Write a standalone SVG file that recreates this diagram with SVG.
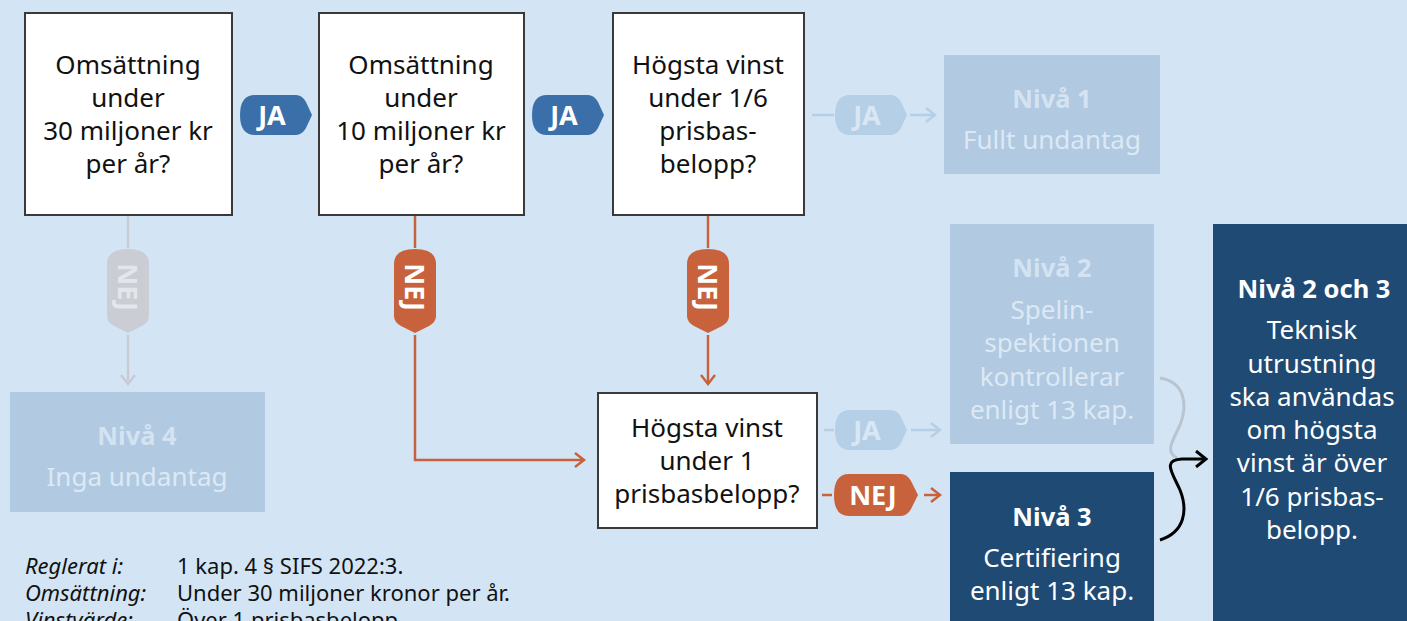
<svg xmlns="http://www.w3.org/2000/svg" width="1407" height="621" viewBox="0 0 1407 621">
<defs>
<style>
text{font-family:"Noto Sans","Open Sans","DejaVu Sans",sans-serif;}
.q{fill:#fff;stroke:#3a3a3a;stroke-width:2;}
.qt{font-size:26px;fill:#111;text-anchor:middle;}
.fade{fill:#b1c9e1;}
.fb{font-size:25.5px;font-weight:bold;fill:#d4e3f2;text-anchor:middle;}
.ft{font-size:26px;fill:#dce9f5;text-anchor:middle;}
.dark{fill:#1f4a73;}
.db{font-size:25.5px;font-weight:bold;fill:#fff;text-anchor:middle;}
.dt{font-size:26px;fill:#fff;text-anchor:middle;}
.tagt{font-size:27px;font-weight:bold;text-anchor:middle;}
.note{font-size:22px;fill:#111;}
</style>
<path id="tagJA" d="M-21,-20 H20 Q26,-20 30,-13 L36,0 L30,13 Q26,20 20,20 H-21 Q-36,20 -36,0 Q-36,-20 -21,-20 Z"/>
<path id="tagNEJ" d="M-27,-21 H25 Q31,-21 35,-14 L42,0 L35,14 Q31,21 25,21 H-27 Q-42,21 -42,0 Q-42,-21 -27,-21 Z"/>
<marker id="aOr" markerWidth="12" markerHeight="16" refX="10" refY="8" orient="auto" markerUnits="userSpaceOnUse">
<path d="M1,1 L10,8 L1,15" fill="none" stroke="#c8623c" stroke-width="2.5"/>
</marker>
<marker id="aFade" markerWidth="12" markerHeight="16" refX="10" refY="8" orient="auto" markerUnits="userSpaceOnUse">
<path d="M1,1 L10,8 L1,15" fill="none" stroke="#b5cfe6" stroke-width="2.5"/>
</marker>
<marker id="aGray" markerWidth="12" markerHeight="16" refX="10" refY="8" orient="auto" markerUnits="userSpaceOnUse">
<path d="M1,1 L10,8 L1,15" fill="none" stroke="#c9cbd3" stroke-width="2.5"/>
</marker>
<marker id="aBlk" markerWidth="14" markerHeight="18" refX="11" refY="9" orient="auto" markerUnits="userSpaceOnUse">
<path d="M1,1 L11,9 L1,17" fill="none" stroke="#000" stroke-width="3"/>
</marker>
</defs>
<rect x="0" y="0" width="1407" height="621" fill="#d3e5f5"/>

<g id="connectors">
<line x1="812" y1="115" x2="834" y2="115" stroke="#b5cfe6" stroke-width="2.5"/>
<line x1="910" y1="115" x2="935" y2="115" stroke="#b5cfe6" stroke-width="2.5" marker-end="url(#aFade)"/>
<line x1="128" y1="216" x2="128" y2="248" stroke="#c9cbd3" stroke-width="2.5"/>
<line x1="128" y1="335" x2="128" y2="384" stroke="#c9cbd3" stroke-width="2.5" marker-end="url(#aGray)"/>
<line x1="415" y1="216" x2="415" y2="248" stroke="#c8623c" stroke-width="2.5"/>
<polyline points="415,335 415,460 584,460" fill="none" stroke="#c8623c" stroke-width="2.5" marker-end="url(#aOr)"/>
<line x1="708" y1="216" x2="708" y2="248" stroke="#c8623c" stroke-width="2.5"/>
<line x1="708" y1="335" x2="708" y2="384" stroke="#c8623c" stroke-width="2.5" marker-end="url(#aOr)"/>
<line x1="824" y1="430" x2="834" y2="430" stroke="#b5cfe6" stroke-width="2.5"/>
<line x1="911" y1="430" x2="940" y2="430" stroke="#b5cfe6" stroke-width="2.5" marker-end="url(#aFade)"/>
<line x1="822" y1="495" x2="832" y2="495" stroke="#c8623c" stroke-width="2.5"/>
<line x1="924" y1="495" x2="940" y2="495" stroke="#c8623c" stroke-width="2.5" marker-end="url(#aOr)"/>
<path d="M1160,378 C1185,382 1188,405 1180,425 C1172,442 1165,452 1177,458" fill="none" stroke="#b9c4cf" stroke-width="3"/>
<path d="M1160,540 C1185,532 1188,510 1180,490 C1172,472 1162,460 1182,459 L1206,459" fill="none" stroke="#000" stroke-width="3" marker-end="url(#aBlk)"/>
</g>

<g id="tags">
<g id="ja1"><use href="#tagJA" transform="translate(276,115)" fill="#3b6fa9"/><text class="tagt" x="272" y="125" fill="#fff">JA</text></g>
<g id="ja2"><use href="#tagJA" transform="translate(568,115)" fill="#3b6fa9"/><text class="tagt" x="564" y="125" fill="#fff">JA</text></g>
<g id="ja3"><use href="#tagJA" transform="translate(871,115)" fill="#b5cfe6"/><text class="tagt" x="867" y="125" fill="#d9e7f4">JA</text></g>
<g id="ja4"><use href="#tagJA" transform="translate(871,430)" fill="#b5cfe6"/><text class="tagt" x="867" y="440" fill="#d9e7f4">JA</text></g>
<g id="nej1"><use href="#tagNEJ" transform="translate(128,291) rotate(90)" fill="#cbcdd4"/><text class="tagt" transform="translate(118,287) rotate(90)" fill="#e4e6ec">NEJ</text></g>
<g id="nej2"><use href="#tagNEJ" transform="translate(415,291) rotate(90)" fill="#c8623c"/><text class="tagt" transform="translate(405,287) rotate(90)" fill="#fff">NEJ</text></g>
<g id="nej3"><use href="#tagNEJ" transform="translate(708,291) rotate(90)" fill="#c8623c"/><text class="tagt" transform="translate(698,287) rotate(90)" fill="#fff">NEJ</text></g>
<g id="nej4"><use href="#tagNEJ" transform="translate(876,495)" fill="#c8623c"/><text class="tagt" x="873" y="505" fill="#fff">NEJ</text></g>
</g>

<g id="q1"><rect class="q" x="25" y="13" width="207" height="202"/>
<text class="qt"><tspan x="128" y="74">Omsättning</tspan><tspan x="128" y="107">under</tspan><tspan x="128" y="140">30 miljoner kr</tspan><tspan x="128" y="173">per år?</tspan></text></g>
<g id="q2"><rect class="q" x="319" y="13" width="205" height="202"/>
<text class="qt"><tspan x="421" y="74">Omsättning</tspan><tspan x="421" y="107">under</tspan><tspan x="421" y="140">10 miljoner kr</tspan><tspan x="421" y="173">per år?</tspan></text></g>
<g id="q3"><rect class="q" x="613" y="13" width="191" height="202"/>
<text class="qt"><tspan x="708" y="74">Högsta vinst</tspan><tspan x="708" y="107">under 1/6</tspan><tspan x="708" y="140">prisbas-</tspan><tspan x="708" y="173">belopp?</tspan></text></g>
<g id="q4"><rect class="q" x="598" y="393" width="219" height="135"/>
<text class="qt"><tspan x="707" y="437">Högsta vinst</tspan><tspan x="707" y="470">under 1</tspan><tspan x="707" y="503">prisbasbelopp?</tspan></text></g>

<g id="niva1"><rect class="fade" x="944" y="55" width="216" height="119"/>
<text class="fb" x="1052" y="108">Nivå 1</text><text class="ft" x="1052" y="149">Fullt undantag</text></g>
<g id="niva2"><rect class="fade" x="950" y="224" width="204" height="220"/>
<text class="fb" x="1052" y="277">Nivå 2</text>
<text class="ft"><tspan x="1052" y="319">Spelin-</tspan><tspan x="1052" y="352">spektionen</tspan><tspan x="1052" y="386">kontrollerar</tspan><tspan x="1052" y="419">enligt 13 kap.</tspan></text></g>
<g id="niva4"><rect class="fade" x="10" y="392" width="255" height="120"/>
<text class="fb" x="137" y="445">Nivå 4</text><text class="ft" x="137" y="486">Inga undantag</text></g>
<g id="niva3"><rect class="dark" x="950" y="472" width="204" height="149"/>
<text class="db" x="1052" y="526">Nivå 3</text>
<text class="dt"><tspan x="1052" y="567">Certifiering</tspan><tspan x="1052" y="600">enligt 13 kap.</tspan></text></g>
<g id="niva23"><rect class="dark" x="1213" y="224" width="194" height="397"/>
<text class="db" x="1314" y="298">Nivå 2 och 3</text>
<text class="dt"><tspan x="1312" y="339">Teknisk</tspan><tspan x="1312" y="373">utrustning</tspan><tspan x="1312" y="406">ska användas</tspan><tspan x="1312" y="439">om högsta</tspan><tspan x="1312" y="472">vinst är över</tspan><tspan x="1312" y="506">1/6 prisbas-</tspan><tspan x="1312" y="539">belopp.</tspan></text></g>

<g id="footnote">
<text class="note" font-style="italic"><tspan x="25" y="574">Reglerat i:</tspan><tspan x="25" y="601">Omsättning:</tspan><tspan x="25" y="628">Vinstvärde:</tspan></text>
<text class="note"><tspan x="177" y="574">1 kap. 4 § SIFS 2022:3.</tspan><tspan x="177" y="601">Under 30 miljoner kronor per år.</tspan><tspan x="177" y="628">Över 1 prisbasbelopp.</tspan></text>
</g>
</svg>
